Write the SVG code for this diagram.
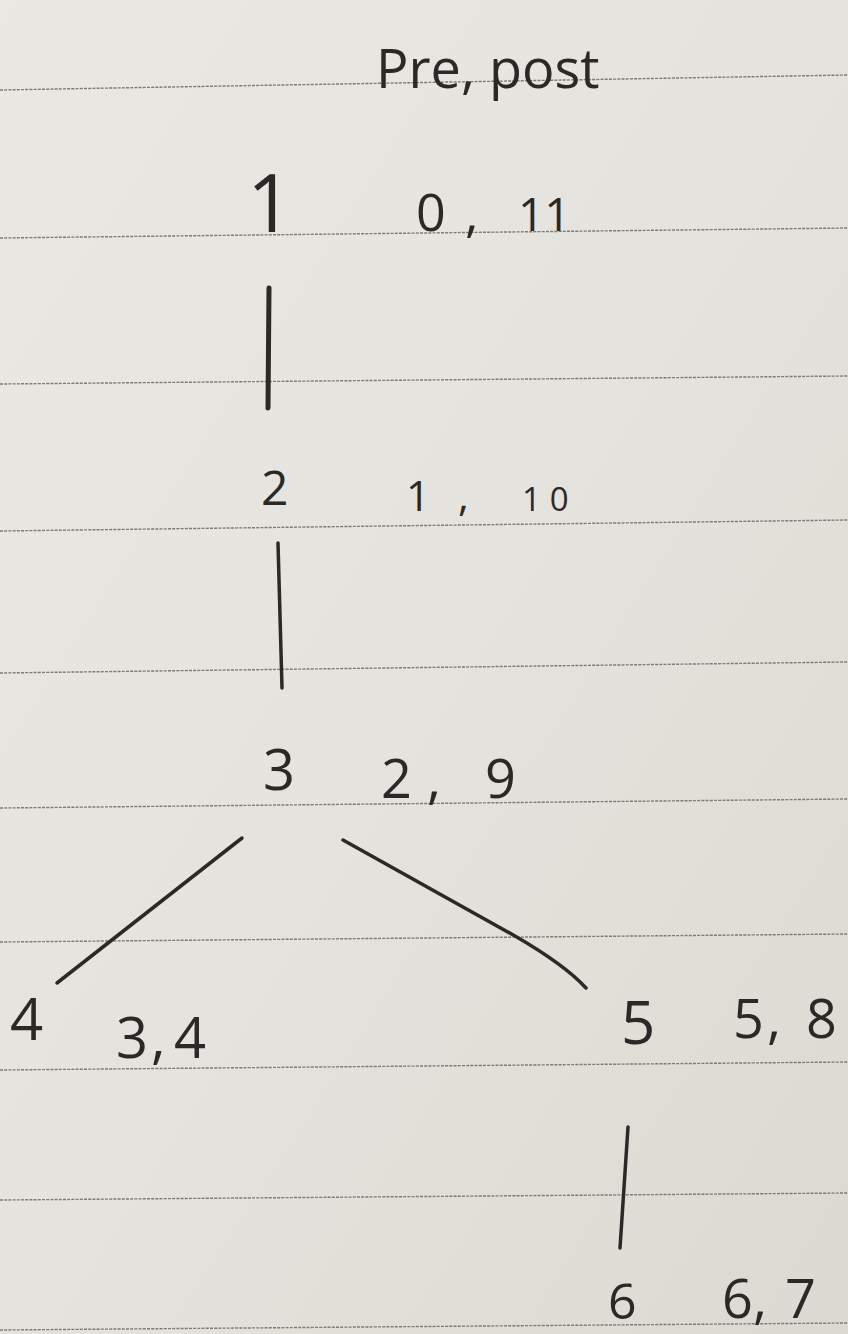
<svg xmlns="http://www.w3.org/2000/svg" width="848" height="1334" viewBox="0 0 848 1334">
<defs>
<linearGradient id="paper" x1="0" y1="0" x2="1" y2="1">
<stop offset="0" stop-color="#eae8e2"/>
<stop offset="0.5" stop-color="#e5e3dd"/>
<stop offset="1" stop-color="#dcd9d2"/>
</linearGradient>
<style>
.rule{stroke:#7d7b77;stroke-width:1.4;stroke-dasharray:3 1.2;fill:none}
.ink{fill:#2b2927;font-family:"Open Sans","Liberation Sans",sans-serif}
.edge{stroke:#2b2927;stroke-linecap:round;fill:none}
</style>
</defs>
<rect width="848" height="1334" fill="url(#paper)"/>
<g id="ruled-lines">
<line class="rule" x1="0" y1="90" x2="848" y2="75"/>
<line class="rule" x1="0" y1="238" x2="848" y2="228"/>
<line class="rule" x1="0" y1="384" x2="848" y2="376"/>
<line class="rule" x1="0" y1="531" x2="848" y2="520"/>
<line class="rule" x1="0" y1="673" x2="848" y2="662"/>
<line class="rule" x1="0" y1="808" x2="848" y2="799"/>
<line class="rule" x1="0" y1="942" x2="848" y2="934"/>
<line class="rule" x1="0" y1="1070" x2="848" y2="1062"/>
<line class="rule" x1="0" y1="1200" x2="848" y2="1193"/>
<line class="rule" x1="0" y1="1330" x2="848" y2="1323"/>
</g>
<g id="header">
<text class="ink" x="376" y="88" font-size="54">Pre, post</text>
</g>
<g id="connectors">
<line class="edge" x1="269" y1="288" x2="268" y2="408" stroke-width="5"/>
<line class="edge" x1="278" y1="543" x2="282" y2="688" stroke-width="3.5"/>
<line class="edge" x1="242" y1="838" x2="57" y2="983" stroke-width="3.5"/>
<path class="edge" d="M343 840 L515 936 Q565 965 586 988" stroke-width="3.5"/>
<line class="edge" x1="628" y1="1127" x2="620" y2="1248" stroke-width="3.5"/>
</g>
<g id="node-1">
<text class="ink" x="247" y="232" font-size="80">1</text>
<text class="ink" y="231"><tspan x="416" font-size="52">0</tspan><tspan x="465" font-size="52">,</tspan> <tspan x="518" font-size="46">11</tspan></text>
</g>
<g id="node-2">
<text class="ink" x="261" y="505" font-size="48">2</text>
<text class="ink" y="511"><tspan x="406" font-size="42">1</tspan><tspan x="458" font-size="42">,</tspan> <tspan x="522" font-size="33" letter-spacing="9">10</tspan></text>
</g>
<g id="node-3">
<text class="ink" x="263" y="790" font-size="56">3</text>
<text class="ink" y="798" font-size="54"><tspan x="381">2</tspan><tspan x="427">,</tspan> <tspan x="485">9</tspan></text>
</g>
<g id="node-4">
<text class="ink" x="10" y="1040" font-size="58">4</text>
<text class="ink" y="1058" font-size="56"><tspan x="116">3</tspan><tspan x="151">,</tspan> <tspan x="174">4</tspan></text>
</g>
<g id="node-5">
<text class="ink" x="621" y="1044" font-size="60">5</text>
<text class="ink" y="1038" font-size="54"><tspan x="733">5</tspan><tspan x="767">,</tspan> <tspan x="806">8</tspan></text>
</g>
<g id="node-6">
<text class="ink" x="608" y="1319" font-size="50">6</text>
<text class="ink" y="1318" font-size="54"><tspan x="722">6</tspan><tspan x="753">,</tspan> <tspan x="785">7</tspan></text>
</g>
</svg>
